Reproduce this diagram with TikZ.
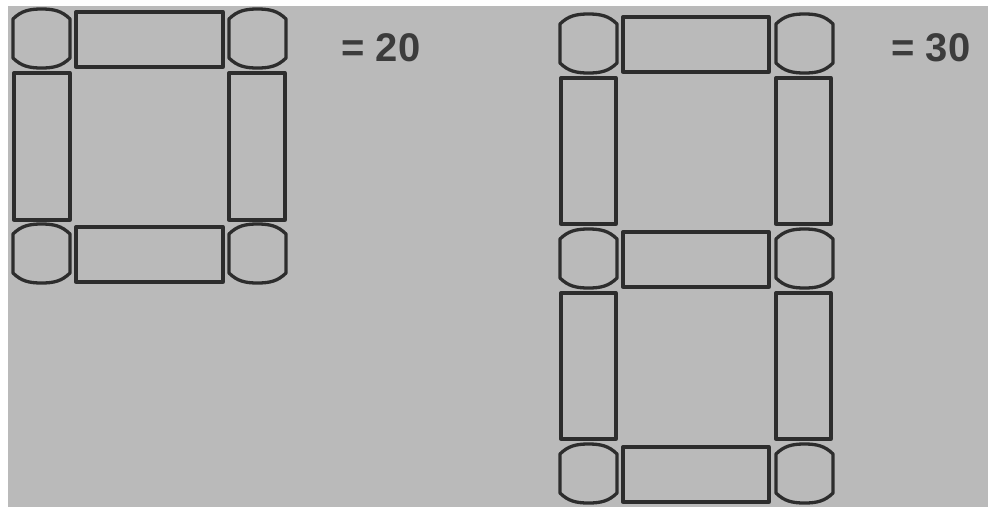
\documentclass[tikz,border=0pt]{standalone}
\usepackage{fontspec}
\setsansfont{Liberation Sans}
\definecolor{paper}{RGB}{186,186,186}
\definecolor{ink}{RGB}{45,45,45}
\definecolor{sumgray}{RGB}{60,60,60}
\tikzset{
  segline/.style={draw=ink, line width=3.3pt, line join=round},
  knob/.pic={
    \draw[segline] (0,10) .. controls (8,2) and (16,0) .. (28.5,0)
      .. controls (41,0) and (49,2) .. (57,10)
      -- (57,49) .. controls (49,57) and (41,59) .. (28.5,59)
      .. controls (16,59) and (8,57) .. (0,49) -- cycle;
  },
  sumlabel/.style={font=\sffamily\bfseries\fontsize{40}{44}\selectfont, text=sumgray, anchor=base, inner sep=0pt}
}

\begin{document}
\begin{tikzpicture}[x=1pt, y=-1pt]
    \useasboundingbox (0,0) rectangle (988,507);
    \fill[white] (0,0) rectangle (988,507);
    \fill[paper] (8,6) rectangle (988,507);

    % left frame: one square
    \foreach \r in {0,1} {
        \pic at (13,{9+215*\r}) {knob};
        \pic at (229,{9+215*\r}) {knob};
        \draw[segline] (76,{12+215*\r}) rectangle (223,{67+215*\r});
    }
    \draw[segline] (14,73) rectangle (70,220);
    \draw[segline] (229,73) rectangle (285,220);
    \node[sumlabel] (sumA) at (381,61) {= 20};

    % right frame: two squares
    \foreach \r in {0,1,2} {
        \pic at (560,{14+215*\r}) {knob};
        \pic at (776,{14+215*\r}) {knob};
        \draw[segline] (623,{17+215*\r}) rectangle (769,{72+215*\r});
    }
    \foreach \r in {0,1} {
        \draw[segline] (561,{78+215*\r}) rectangle (616,{224+215*\r});
        \draw[segline] (776,{78+215*\r}) rectangle (831,{224+215*\r});
    }
    \node[sumlabel] (sumB) at (931,61) {= 30};
\end{tikzpicture}
\end{document}
